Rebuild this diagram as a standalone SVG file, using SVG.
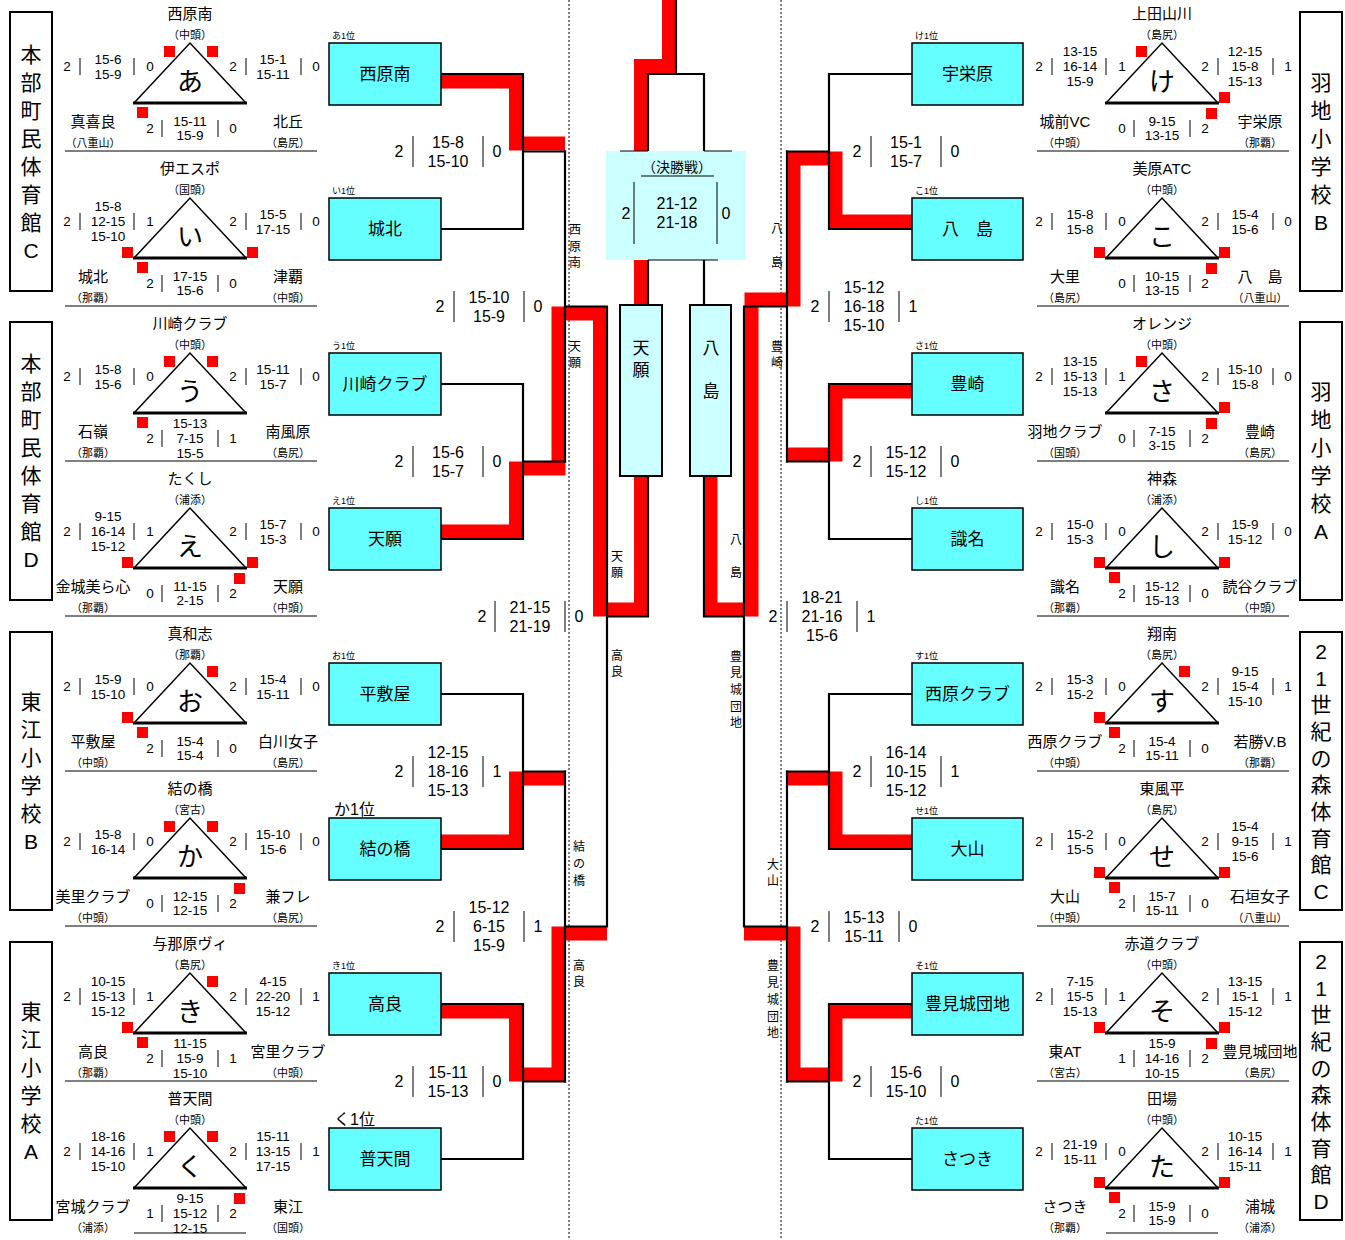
<svg xmlns="http://www.w3.org/2000/svg" width="1345" height="1240" viewBox="0 0 1345 1240">
<style>
svg{font-size:13.5px}
text{font-family:"Liberation Sans","Noto Sans CJK JP",sans-serif;text-anchor:middle;dominant-baseline:central;fill:#000}
.nm{font-size:15px}
.ds{font-size:11px}
.lt{font-size:26px}
.bs{font-size:16px}
.tb{font-size:17px}
.eg{font-size:21px}
.vl{font-size:12px}
.fn{font-size:14px}
.rk{font-size:9px;text-anchor:start}
.rkb{font-size:16px;text-anchor:start}
.red{fill:none;stroke:#f00;stroke-width:14;stroke-linejoin:miter}
.blk{fill:none;stroke:#000;stroke-width:2.2;stroke-linecap:square}
.box{fill:#66ffff;stroke:#000;stroke-width:1.5}
.sbox{fill:#ccffff;stroke:#000;stroke-width:2}
.thin{stroke:#000;stroke-width:1}
.dash{stroke:#000;stroke-width:1;stroke-dasharray:2 2}
.edge{fill:#fff;stroke:#000;stroke-width:2}
</style>
<defs>
<g id="pf">
<polyline points="-56,60 0,0 56,60" fill="none" stroke="#000" stroke-width="1.5"/>
<line x1="-57" y1="60" x2="57" y2="60" stroke="#000" stroke-width="3"/>
<g class="thin">
<line x1="-110" y1="15" x2="-110" y2="32"/>
<line x1="-56" y1="15" x2="-56" y2="32"/>
<line x1="56" y1="15" x2="56" y2="32"/>
<line x1="111" y1="15" x2="111" y2="32"/>
<line x1="-28" y1="77" x2="-28" y2="94"/>
<line x1="28" y1="77" x2="28" y2="94"/>
</g>
</g>
<line id="ul" x1="-125" y1="108" x2="127" y2="108" stroke="#000" stroke-width="1"/>
<line id="uls" x1="-56" y1="105" x2="56" y2="105" stroke="#000" stroke-width="1"/>
<rect id="sq" width="11" height="11" fill="#f00"/>
<g id="bb" class="thin"><line x1="-35" y1="-15.5" x2="-35" y2="15.5"/><line x1="35" y1="-15.5" x2="35" y2="15.5"/></g>
</defs>

<g id="dividers">
<line class="dash" x1="569" y1="0" x2="569" y2="1240"/>
<line class="dash" x1="781" y1="0" x2="781" y2="1240"/>
</g>

<g id="venue-left-1"><rect class="edge" x="10" y="12" width="42" height="279"/>
<text class="eg"><tspan x="31" y="53.5">本</tspan><tspan x="31" y="81.5">部</tspan><tspan x="31" y="109.5">町</tspan><tspan x="31" y="137.5">民</tspan><tspan x="31" y="165.5">体</tspan><tspan x="31" y="193.5">育</tspan><tspan x="31" y="221.5">館</tspan><tspan x="31" y="249.5">C</tspan></text></g>
<g id="venue-left-2"><rect class="edge" x="10" y="322" width="42" height="278"/>
<text class="eg"><tspan x="31" y="363">本</tspan><tspan x="31" y="391">部</tspan><tspan x="31" y="419">町</tspan><tspan x="31" y="447">民</tspan><tspan x="31" y="475">体</tspan><tspan x="31" y="503">育</tspan><tspan x="31" y="531">館</tspan><tspan x="31" y="559">D</tspan></text></g>
<g id="venue-left-3"><rect class="edge" x="10" y="632" width="42" height="278"/>
<text class="eg"><tspan x="31" y="701">東</tspan><tspan x="31" y="729">江</tspan><tspan x="31" y="757">小</tspan><tspan x="31" y="785">学</tspan><tspan x="31" y="813">校</tspan><tspan x="31" y="841">B</tspan></text></g>
<g id="venue-left-4"><rect class="edge" x="10" y="942" width="42" height="278"/>
<text class="eg"><tspan x="31" y="1011">東</tspan><tspan x="31" y="1039">江</tspan><tspan x="31" y="1067">小</tspan><tspan x="31" y="1095">学</tspan><tspan x="31" y="1123">校</tspan><tspan x="31" y="1151">A</tspan></text></g>
<g id="venue-right-1"><rect class="edge" x="1300" y="12" width="42" height="279"/>
<text class="eg"><tspan x="1321" y="81.5">羽</tspan><tspan x="1321" y="109.5">地</tspan><tspan x="1321" y="137.5">小</tspan><tspan x="1321" y="165.5">学</tspan><tspan x="1321" y="193.5">校</tspan><tspan x="1321" y="221.5">B</tspan></text></g>
<g id="venue-right-2"><rect class="edge" x="1300" y="322" width="42" height="278"/>
<text class="eg"><tspan x="1321" y="391">羽</tspan><tspan x="1321" y="419">地</tspan><tspan x="1321" y="447">小</tspan><tspan x="1321" y="475">学</tspan><tspan x="1321" y="503">校</tspan><tspan x="1321" y="531">A</tspan></text></g>
<g id="venue-right-3"><rect class="edge" x="1300" y="632" width="42" height="278"/>
<text class="eg"><tspan x="1321" y="651">2</tspan><tspan x="1321" y="677.6">1</tspan><tspan x="1321" y="704.3">世</tspan><tspan x="1321" y="731">紀</tspan><tspan x="1321" y="757.6">の</tspan><tspan x="1321" y="784.3">森</tspan><tspan x="1321" y="811">体</tspan><tspan x="1321" y="837.7">育</tspan><tspan x="1321" y="864.4">館</tspan><tspan x="1321" y="891">C</tspan></text></g>
<g id="venue-right-4"><rect class="edge" x="1300" y="942" width="42" height="278"/>
<text class="eg"><tspan x="1321" y="961">2</tspan><tspan x="1321" y="987.6">1</tspan><tspan x="1321" y="1014.3">世</tspan><tspan x="1321" y="1041">紀</tspan><tspan x="1321" y="1067.6">の</tspan><tspan x="1321" y="1094.3">森</tspan><tspan x="1321" y="1121">体</tspan><tspan x="1321" y="1147.7">育</tspan><tspan x="1321" y="1174.4">館</tspan><tspan x="1321" y="1201">D</tspan></text></g>

<!-- Left pools -->
<g id="pool-a" transform="translate(190,43)"><use href="#pf"/><use href="#ul"/>
<text class="nm" y="-30">西原南</text><text class="ds" y="-8">（中頭）</text><text class="lt" y="39">あ</text>
<text x="-123" y="23">2</text><text x="-82" y="16">15-6</text><text x="-82" y="31">15-9</text><text x="-40" y="23">0</text>
<text x="43" y="23">2</text><text x="83" y="16">15-1</text><text x="83" y="31">15-11</text><text x="126" y="23">0</text>
<text x="-40" y="85">2</text><text y="78">15-11</text><text y="92">15-9</text><text x="43" y="85">0</text>
<text class="nm" x="-97" y="78">真喜良</text><text class="ds" x="-97" y="100">（八重山）</text>
<text class="nm" x="98" y="78">北丘</text><text class="ds" x="98" y="100">（島尻）</text>
<use href="#sq" x="-26" y="3"/><use href="#sq" x="17" y="3"/><use href="#sq" x="-53" y="64"/></g>

<g id="pool-i" transform="translate(190,198)"><use href="#pf"/><use href="#ul"/>
<text class="nm" y="-30">伊エスポ</text><text class="ds" y="-8">（国頭）</text><text class="lt" y="39">い</text>
<text x="-123" y="23">2</text><text x="-82" y="8">15-8</text><text x="-82" y="23">12-15</text><text x="-82" y="38">15-10</text><text x="-40" y="23">1</text>
<text x="43" y="23">2</text><text x="83" y="16">15-5</text><text x="83" y="31">17-15</text><text x="126" y="23">0</text>
<text x="-40" y="85">2</text><text y="78">17-15</text><text y="92">15-6</text><text x="43" y="85">0</text>
<text class="nm" x="-97" y="78">城北</text><text class="ds" x="-97" y="100">（那覇）</text>
<text class="nm" x="98" y="78">津覇</text><text class="ds" x="98" y="100">（中頭）</text>
<use href="#sq" x="-68" y="49"/><use href="#sq" x="57" y="49"/><use href="#sq" x="-53" y="64"/></g>

<g id="pool-u" transform="translate(190,353)"><use href="#pf"/><use href="#ul"/>
<text class="nm" y="-30">川崎クラブ</text><text class="ds" y="-8">（中頭）</text><text class="lt" y="39">う</text>
<text x="-123" y="23">2</text><text x="-82" y="16">15-8</text><text x="-82" y="31">15-6</text><text x="-40" y="23">0</text>
<text x="43" y="23">2</text><text x="83" y="16">15-11</text><text x="83" y="31">15-7</text><text x="126" y="23">0</text>
<text x="-40" y="85">2</text><text y="70">15-13</text><text y="85">7-15</text><text y="100">15-5</text><text x="43" y="85">1</text>
<text class="nm" x="-97" y="78">石嶺</text><text class="ds" x="-97" y="100">（那覇）</text>
<text class="nm" x="98" y="78">南風原</text><text class="ds" x="98" y="100">（島尻）</text>
<use href="#sq" x="-26" y="3"/><use href="#sq" x="17" y="3"/><use href="#sq" x="-53" y="64"/></g>

<g id="pool-e" transform="translate(190,508)"><use href="#pf"/><use href="#ul"/>
<text class="nm" y="-30">たくし</text><text class="ds" y="-8">（浦添）</text><text class="lt" y="39">え</text>
<text x="-123" y="23">2</text><text x="-82" y="8">9-15</text><text x="-82" y="23">16-14</text><text x="-82" y="38">15-12</text><text x="-40" y="23">1</text>
<text x="43" y="23">2</text><text x="83" y="16">15-7</text><text x="83" y="31">15-3</text><text x="126" y="23">0</text>
<text x="-40" y="85">0</text><text y="78">11-15</text><text y="92">2-15</text><text x="43" y="85">2</text>
<text class="nm" x="-97" y="78">金城美ら心</text><text class="ds" x="-97" y="100">（那覇）</text>
<text class="nm" x="98" y="78">天願</text><text class="ds" x="98" y="100">（中頭）</text>
<use href="#sq" x="-68" y="49"/><use href="#sq" x="57" y="49"/><use href="#sq" x="44" y="65"/></g>

<g id="pool-o" transform="translate(190,663)"><use href="#pf"/><use href="#ul"/>
<text class="nm" y="-30">真和志</text><text class="ds" y="-8">（那覇）</text><text class="lt" y="39">お</text>
<text x="-123" y="23">2</text><text x="-82" y="16">15-9</text><text x="-82" y="31">15-10</text><text x="-40" y="23">0</text>
<text x="43" y="23">2</text><text x="83" y="16">15-4</text><text x="83" y="31">15-11</text><text x="126" y="23">0</text>
<text x="-40" y="85">2</text><text y="78">15-4</text><text y="92">15-4</text><text x="43" y="85">0</text>
<text class="nm" x="-97" y="78">平敷屋</text><text class="ds" x="-97" y="100">（中頭）</text>
<text class="nm" x="98" y="78">白川女子</text><text class="ds" x="98" y="100">（島尻）</text>
<use href="#sq" x="17" y="3"/><use href="#sq" x="-68" y="49"/><use href="#sq" x="-53" y="64"/></g>

<g id="pool-ka" transform="translate(190,818)"><use href="#pf"/><use href="#ul"/>
<text class="nm" y="-30">結の橋</text><text class="ds" y="-8">（宮古）</text><text class="lt" y="39">か</text>
<text x="-123" y="23">2</text><text x="-82" y="16">15-8</text><text x="-82" y="31">16-14</text><text x="-40" y="23">0</text>
<text x="43" y="23">2</text><text x="83" y="16">15-10</text><text x="83" y="31">15-6</text><text x="126" y="23">0</text>
<text x="-40" y="85">0</text><text y="78">12-15</text><text y="92">12-15</text><text x="43" y="85">2</text>
<text class="nm" x="-97" y="78">美里クラブ</text><text class="ds" x="-97" y="100">（中頭）</text>
<text class="nm" x="98" y="78">兼フレ</text><text class="ds" x="98" y="100">（島尻）</text>
<use href="#sq" x="-26" y="3"/><use href="#sq" x="17" y="3"/><use href="#sq" x="44" y="65"/></g>

<g id="pool-ki" transform="translate(190,973)"><use href="#pf"/><use href="#ul"/>
<text class="nm" y="-30">与那原ヴィ</text><text class="ds" y="-8">（島尻）</text><text class="lt" y="39">き</text>
<text x="-123" y="23">2</text><text x="-82" y="8">10-15</text><text x="-82" y="23">15-13</text><text x="-82" y="38">15-12</text><text x="-40" y="23">1</text>
<text x="43" y="23">2</text><text x="83" y="8">4-15</text><text x="83" y="23">22-20</text><text x="83" y="38">15-12</text><text x="126" y="23">1</text>
<text x="-40" y="85">2</text><text y="70">11-15</text><text y="85">15-9</text><text y="100">15-10</text><text x="43" y="85">1</text>
<text class="nm" x="-97" y="78">高良</text><text class="ds" x="-97" y="100">（那覇）</text>
<text class="nm" x="98" y="78">宮里クラブ</text><text class="ds" x="98" y="100">（中頭）</text>
<use href="#sq" x="17" y="3"/><use href="#sq" x="-68" y="49"/><use href="#sq" x="-53" y="64"/></g>

<g id="pool-ku" transform="translate(190,1128)"><use href="#pf"/><use href="#uls"/>
<text class="nm" y="-30">普天間</text><text class="ds" y="-8">（中頭）</text><text class="lt" y="39">く</text>
<text x="-123" y="23">2</text><text x="-82" y="8">18-16</text><text x="-82" y="23">14-16</text><text x="-82" y="38">15-10</text><text x="-40" y="23">1</text>
<text x="43" y="23">2</text><text x="83" y="8">15-11</text><text x="83" y="23">13-15</text><text x="83" y="38">17-15</text><text x="126" y="23">1</text>
<text x="-40" y="85">1</text><text y="70">9-15</text><text y="85">15-12</text><text y="100">12-15</text><text x="43" y="85">2</text>
<text class="nm" x="-97" y="78">宮城クラブ</text><text class="ds" x="-97" y="100">（浦添）</text>
<text class="nm" x="98" y="78">東江</text><text class="ds" x="98" y="100">（国頭）</text>
<use href="#sq" x="-26" y="3"/><use href="#sq" x="17" y="3"/><use href="#sq" x="44" y="65"/></g>

<!-- Right pools -->
<g id="pool-ke" transform="translate(1162,43)"><use href="#pf"/><use href="#ul"/>
<text class="nm" y="-30">上田山川</text><text class="ds" y="-8">（島尻）</text><text class="lt" y="39">け</text>
<text x="-123" y="23">2</text><text x="-82" y="8">13-15</text><text x="-82" y="23">16-14</text><text x="-82" y="38">15-9</text><text x="-40" y="23">1</text>
<text x="43" y="23">2</text><text x="83" y="8">12-15</text><text x="83" y="23">15-8</text><text x="83" y="38">15-13</text><text x="126" y="23">1</text>
<text x="-40" y="85">0</text><text y="78">9-15</text><text y="92">13-15</text><text x="43" y="85">2</text>
<text class="nm" x="-97" y="78">城前VC</text><text class="ds" x="-97" y="100">（中頭）</text>
<text class="nm" x="98" y="78">宇栄原</text><text class="ds" x="98" y="100">（那覇）</text>
<use href="#sq" x="-26" y="3"/><use href="#sq" x="57" y="49"/><use href="#sq" x="44" y="65"/></g>

<g id="pool-ko" transform="translate(1162,198)"><use href="#pf"/><use href="#ul"/>
<text class="nm" y="-30">美原ATC</text><text class="ds" y="-8">（中頭）</text><text class="lt" y="39">こ</text>
<text x="-123" y="23">2</text><text x="-82" y="16">15-8</text><text x="-82" y="31">15-8</text><text x="-40" y="23">0</text>
<text x="43" y="23">2</text><text x="83" y="16">15-4</text><text x="83" y="31">15-6</text><text x="126" y="23">0</text>
<text x="-40" y="85">0</text><text y="78">10-15</text><text y="92">13-15</text><text x="43" y="85">2</text>
<text class="nm" x="-97" y="78">大里</text><text class="ds" x="-97" y="100">（島尻）</text>
<text class="nm" x="98" y="78">八　島</text><text class="ds" x="98" y="100">（八重山）</text>
<use href="#sq" x="-68" y="49"/><use href="#sq" x="57" y="49"/><use href="#sq" x="44" y="65"/></g>

<g id="pool-sa" transform="translate(1162,353)"><use href="#pf"/><use href="#ul"/>
<text class="nm" y="-30">オレンジ</text><text class="ds" y="-8">（中頭）</text><text class="lt" y="39">さ</text>
<text x="-123" y="23">2</text><text x="-82" y="8">13-15</text><text x="-82" y="23">15-13</text><text x="-82" y="38">15-13</text><text x="-40" y="23">1</text>
<text x="43" y="23">2</text><text x="83" y="16">15-10</text><text x="83" y="31">15-8</text><text x="126" y="23">0</text>
<text x="-40" y="85">0</text><text y="78">7-15</text><text y="92">3-15</text><text x="43" y="85">2</text>
<text class="nm" x="-97" y="78">羽地クラブ</text><text class="ds" x="-97" y="100">（国頭）</text>
<text class="nm" x="98" y="78">豊崎</text><text class="ds" x="98" y="100">（島尻）</text>
<use href="#sq" x="-26" y="3"/><use href="#sq" x="57" y="49"/><use href="#sq" x="44" y="65"/></g>

<g id="pool-shi" transform="translate(1162,508)"><use href="#pf"/><use href="#ul"/>
<text class="nm" y="-30">神森</text><text class="ds" y="-8">（浦添）</text><text class="lt" y="39">し</text>
<text x="-123" y="23">2</text><text x="-82" y="16">15-0</text><text x="-82" y="31">15-3</text><text x="-40" y="23">0</text>
<text x="43" y="23">2</text><text x="83" y="16">15-9</text><text x="83" y="31">15-12</text><text x="126" y="23">0</text>
<text x="-40" y="85">2</text><text y="78">15-12</text><text y="92">15-13</text><text x="43" y="85">0</text>
<text class="nm" x="-97" y="78">識名</text><text class="ds" x="-97" y="100">（那覇）</text>
<text class="nm" x="98" y="78">読谷クラブ</text><text class="ds" x="98" y="100">（中頭）</text>
<use href="#sq" x="-68" y="49"/><use href="#sq" x="57" y="49"/><use href="#sq" x="-53" y="64"/></g>

<g id="pool-su" transform="translate(1162,663)"><use href="#pf"/><use href="#ul"/>
<text class="nm" y="-30">翔南</text><text class="ds" y="-8">（島尻）</text><text class="lt" y="39">す</text>
<text x="-123" y="23">2</text><text x="-82" y="16">15-3</text><text x="-82" y="31">15-2</text><text x="-40" y="23">0</text>
<text x="43" y="23">2</text><text x="83" y="8">9-15</text><text x="83" y="23">15-4</text><text x="83" y="38">15-10</text><text x="126" y="23">1</text>
<text x="-40" y="85">2</text><text y="78">15-4</text><text y="92">15-11</text><text x="43" y="85">0</text>
<text class="nm" x="-97" y="78">西原クラブ</text><text class="ds" x="-97" y="100">（中頭）</text>
<text class="nm" x="98" y="78">若勝V.B</text><text class="ds" x="98" y="100">（那覇）</text>
<use href="#sq" x="17" y="3"/><use href="#sq" x="-68" y="49"/><use href="#sq" x="-53" y="64"/></g>

<g id="pool-se" transform="translate(1162,818)"><use href="#pf"/><use href="#ul"/>
<text class="nm" y="-30">東風平</text><text class="ds" y="-8">（島尻）</text><text class="lt" y="39">せ</text>
<text x="-123" y="23">2</text><text x="-82" y="16">15-2</text><text x="-82" y="31">15-5</text><text x="-40" y="23">0</text>
<text x="43" y="23">2</text><text x="83" y="8">15-4</text><text x="83" y="23">9-15</text><text x="83" y="38">15-6</text><text x="126" y="23">1</text>
<text x="-40" y="85">2</text><text y="78">15-7</text><text y="92">15-11</text><text x="43" y="85">0</text>
<text class="nm" x="-97" y="78">大山</text><text class="ds" x="-97" y="100">（中頭）</text>
<text class="nm" x="98" y="78">石垣女子</text><text class="ds" x="98" y="100">（八重山）</text>
<use href="#sq" x="-68" y="49"/><use href="#sq" x="57" y="49"/><use href="#sq" x="-53" y="64"/></g>

<g id="pool-so" transform="translate(1162,973)"><use href="#pf"/><use href="#ul"/>
<text class="nm" y="-30">赤道クラブ</text><text class="ds" y="-8">（中頭）</text><text class="lt" y="39">そ</text>
<text x="-123" y="23">2</text><text x="-82" y="8">7-15</text><text x="-82" y="23">15-5</text><text x="-82" y="38">15-13</text><text x="-40" y="23">1</text>
<text x="43" y="23">2</text><text x="83" y="8">13-15</text><text x="83" y="23">15-1</text><text x="83" y="38">15-12</text><text x="126" y="23">1</text>
<text x="-40" y="85">1</text><text y="70">15-9</text><text y="85">14-16</text><text y="100">10-15</text><text x="43" y="85">2</text>
<text class="nm" x="-97" y="78">東AT</text><text class="ds" x="-97" y="100">（宮古）</text>
<text class="nm" x="98" y="78">豊見城団地</text><text class="ds" x="98" y="100">（島尻）</text>
<use href="#sq" x="-68" y="49"/><use href="#sq" x="57" y="49"/><use href="#sq" x="44" y="65"/></g>

<g id="pool-ta" transform="translate(1162,1128)"><use href="#pf"/><use href="#uls"/>
<text class="nm" y="-30">田場</text><text class="ds" y="-8">（中頭）</text><text class="lt" y="39">た</text>
<text x="-123" y="23">2</text><text x="-82" y="16">21-19</text><text x="-82" y="31">15-11</text><text x="-40" y="23">0</text>
<text x="43" y="23">2</text><text x="83" y="8">10-15</text><text x="83" y="23">16-14</text><text x="83" y="38">15-11</text><text x="126" y="23">1</text>
<text x="-40" y="85">2</text><text y="78">15-9</text><text y="92">15-9</text><text x="43" y="85">0</text>
<text class="nm" x="-97" y="78">さつき</text><text class="ds" x="-97" y="100">（那覇）</text>
<text class="nm" x="98" y="78">浦城</text><text class="ds" x="98" y="100">（浦添）</text>
<use href="#sq" x="-68" y="49"/><use href="#sq" x="57" y="49"/><use href="#sq" x="-53" y="64"/></g>

<!-- Connectors -->
<g id="connectors">
<path class="red" d="M441,81.5 H516 V143.5 H565"/>
<path class="red" d="M441,531.5 H516 V468.5 H558.5 V313.5 H600 V609.5 H641 V476"/>
<path class="red" d="M441,841.5 H516 V778.5 H565"/>
<path class="red" d="M441,1011.5 H516 V1074.5 H558.5 V933.5 H607"/>
<path class="red" d="M641,305 V66 H669 V0"/>
<path class="red" d="M912,221.5 H835.5 V158.5 H793.5 V299.5 H751.5 V609.5 H710.5 V476"/>
<path class="red" d="M912,391.5 H835.5 V454.5 H787"/>
<path class="red" d="M912,841.5 H835.5 V778.5 H787"/>
<path class="red" d="M912,1011.5 H835.5 V1074.5 H793.5 V933.5 H744"/>

<path class="blk" d="M441,74 H523 V229 H441 M523,151.5 H565 M441,384 H523 V539 H441 M523,461.5 H565 M441,694 H523 V849 H441 M523,771.5 H565 M441,1004 H523 V1159 H441 M523,1081.5 H565"/>
<path class="blk" d="M565,151.5 V461.5 M565,306.5 H607 M565,771.5 V1081.5 M565,926.5 H607 M607,306.5 V926.5 M607,616.5 H648 V476"/>
<path class="blk" d="M648,305 V260 M648,151 V74 H704 V151 M676,74 V0 M704,305 V260"/>
<path class="blk" d="M912,74 H829 V229 H912 M829,151.5 H787 M912,384 H829 V539 H912 M829,461.5 H787 M912,694 H829 V849 H912 M829,771.5 H787 M912,1004 H829 V1159 H912 M829,1081.5 H787"/>
<path class="blk" d="M787,151.5 V461.5 M787,306.5 H744 M787,771.5 V1081.5 M787,926.5 H744 M744,306.5 V926.5 M744,616.5 H704 V476"/>
</g>

<!-- Team boxes left -->
<g id="box-nishiharaminami"><text class="rk" x="332" y="36">あ1位</text><rect class="box" x="329" y="43" width="112" height="62"/><text class="tb" x="385" y="74">西原南</text></g>
<g id="box-johoku"><text class="rk" x="332" y="191">い1位</text><rect class="box" x="329" y="198" width="112" height="62"/><text class="tb" x="385" y="229">城北</text></g>
<g id="box-kawasaki"><text class="rk" x="332" y="346">う1位</text><rect class="box" x="329" y="353" width="112" height="62"/><text class="tb" x="385" y="384">川崎クラブ</text></g>
<g id="box-tengan"><text class="rk" x="332" y="501">え1位</text><rect class="box" x="329" y="508" width="112" height="62"/><text class="tb" x="385" y="539">天願</text></g>
<g id="box-heshikiya"><text class="rk" x="332" y="656">お1位</text><rect class="box" x="329" y="663" width="112" height="62"/><text class="tb" x="385" y="694">平敷屋</text></g>
<g id="box-yuinohashi"><text class="rkb" x="334" y="809">か1位</text><rect class="box" x="329" y="818" width="112" height="62"/><text class="tb" x="385" y="849">結の橋</text></g>
<g id="box-takara"><text class="rk" x="332" y="966">き1位</text><rect class="box" x="329" y="973" width="112" height="62"/><text class="tb" x="385" y="1004">高良</text></g>
<g id="box-futenma"><text class="rkb" x="334" y="1119">く1位</text><rect class="box" x="329" y="1128" width="112" height="62"/><text class="tb" x="385" y="1159">普天間</text></g>

<!-- Team boxes right -->
<g id="box-uebaru"><text class="rk" x="915" y="36">け1位</text><rect class="box" x="912" y="43" width="111" height="62"/><text class="tb" x="967.5" y="74">宇栄原</text></g>
<g id="box-yashima"><text class="rk" x="915" y="191">こ1位</text><rect class="box" x="912" y="198" width="111" height="62"/><text class="tb" x="967.5" y="229">八　島</text></g>
<g id="box-toyosaki"><text class="rk" x="915" y="346">さ1位</text><rect class="box" x="912" y="353" width="111" height="62"/><text class="tb" x="967.5" y="384">豊崎</text></g>
<g id="box-shikina"><text class="rk" x="915" y="501">し1位</text><rect class="box" x="912" y="508" width="111" height="62"/><text class="tb" x="967.5" y="539">識名</text></g>
<g id="box-nishiharaclub"><text class="rk" x="915" y="656">す1位</text><rect class="box" x="912" y="663" width="111" height="62"/><text class="tb" x="967.5" y="694">西原クラブ</text></g>
<g id="box-oyama"><text class="rk" x="915" y="811">せ1位</text><rect class="box" x="912" y="818" width="111" height="62"/><text class="tb" x="967.5" y="849">大山</text></g>
<g id="box-tomigusuku"><text class="rk" x="915" y="966">そ1位</text><rect class="box" x="912" y="973" width="111" height="62"/><text class="tb" x="967.5" y="1004">豊見城団地</text></g>
<g id="box-satsuki"><text class="rk" x="915" y="1121">た1位</text><rect class="box" x="912" y="1128" width="111" height="62"/><text class="tb" x="967.5" y="1159">さつき</text></g>

<!-- Semifinal winners and final -->
<g id="semi-tengan"><rect class="sbox" x="620" y="305" width="42" height="171"/><text class="tb"><tspan x="641" y="348">天</tspan><tspan x="641" y="370">願</tspan></text></g>
<g id="semi-yashima"><rect class="sbox" x="690" y="305" width="41" height="171"/><text class="tb"><tspan x="711" y="348">八</tspan><tspan x="711" y="391">島</tspan></text></g>
<g id="final">
<rect x="606" y="151" width="140" height="109" fill="#ccffff"/>
<g class="thin"><line x1="620" y1="151" x2="648" y2="151"/><line x1="704" y1="151" x2="732" y2="151"/><line x1="648" y1="260" x2="718" y2="260"/></g>
<text class="fn" x="677" y="167">（決勝戦）</text>
<line class="thin" x1="641" y1="176" x2="714" y2="176"/>
<g class="bs" transform="translate(677,213)">
<line class="thin" x1="-43" y1="-31" x2="-43" y2="31"/><line class="thin" x1="40" y1="-31" x2="40" y2="31"/>
<text x="-51">2</text><text y="-9.5">21-12</text><text y="9.5">21-18</text><text x="49">0</text></g>
</g>

<!-- Bracket scores -->
<g id="scores" class="bs">
<g transform="translate(448,151.5)"><use href="#bb"/><text x="-49">2</text><text y="-9.5">15-8</text><text y="9.5">15-10</text><text x="49">0</text></g>
<g transform="translate(448,461.5)"><use href="#bb"/><text x="-49">2</text><text y="-9.5">15-6</text><text y="9.5">15-7</text><text x="49">0</text></g>
<g transform="translate(448,771.5)"><use href="#bb"/><text x="-49">2</text><text y="-19">12-15</text><text>18-16</text><text y="19">15-13</text><text x="49">1</text></g>
<g transform="translate(448,1081.5)"><use href="#bb"/><text x="-49">2</text><text y="-9.5">15-11</text><text y="9.5">15-13</text><text x="49">0</text></g>
<g transform="translate(489,306.5)"><use href="#bb"/><text x="-49">2</text><text y="-9.5">15-10</text><text y="9.5">15-9</text><text x="49">0</text></g>
<g transform="translate(489,926.5)"><use href="#bb"/><text x="-49">2</text><text y="-19">15-12</text><text>6-15</text><text y="19">15-9</text><text x="49">1</text></g>
<g transform="translate(530,616.5)"><use href="#bb"/><text x="-48">2</text><text y="-9.5">21-15</text><text y="9.5">21-19</text><text x="49">0</text></g>
<g transform="translate(906,151.5)"><use href="#bb"/><text x="-49">2</text><text y="-9.5">15-1</text><text y="9.5">15-7</text><text x="49">0</text></g>
<g transform="translate(906,461.5)"><use href="#bb"/><text x="-49">2</text><text y="-9.5">15-12</text><text y="9.5">15-12</text><text x="49">0</text></g>
<g transform="translate(906,771.5)"><use href="#bb"/><text x="-49">2</text><text y="-19">16-14</text><text>10-15</text><text y="19">15-12</text><text x="49">1</text></g>
<g transform="translate(906,1081.5)"><use href="#bb"/><text x="-49">2</text><text y="-9.5">15-6</text><text y="9.5">15-10</text><text x="49">0</text></g>
<g transform="translate(864,306.5)"><use href="#bb"/><text x="-49">2</text><text y="-19">15-12</text><text>16-18</text><text y="19">15-10</text><text x="49">1</text></g>
<g transform="translate(864,926.5)"><use href="#bb"/><text x="-49">2</text><text y="-9.5">15-13</text><text y="9.5">15-11</text><text x="49">0</text></g>
<g transform="translate(822,616.5)"><use href="#bb"/><text x="-49">2</text><text y="-19">18-21</text><text>21-16</text><text y="19">15-6</text><text x="49">1</text></g>
</g>

<!-- Vertical winner labels -->
<g id="winner-labels" class="vl">
<text><tspan x="575" y="230">西</tspan><tspan x="575" y="247">原</tspan><tspan x="575" y="263">南</tspan></text>
<text><tspan x="575" y="347">天</tspan><tspan x="575" y="363">願</tspan></text>
<text><tspan x="617" y="557">天</tspan><tspan x="617" y="573">願</tspan></text>
<text><tspan x="617" y="656">高</tspan><tspan x="617" y="672">良</tspan></text>
<text><tspan x="579" y="847">結</tspan><tspan x="579" y="864">の</tspan><tspan x="579" y="881">橋</tspan></text>
<text><tspan x="579" y="966">高</tspan><tspan x="579" y="982">良</tspan></text>
<text><tspan x="777" y="229">八</tspan><tspan x="777" y="263">島</tspan></text>
<text><tspan x="777" y="347">豊</tspan><tspan x="777" y="363">崎</tspan></text>
<text><tspan x="736" y="540">八</tspan><tspan x="736" y="573">島</tspan></text>
<text><tspan x="736" y="657">豊</tspan><tspan x="736" y="673">見</tspan><tspan x="736" y="690">城</tspan><tspan x="736" y="707">団</tspan><tspan x="736" y="723">地</tspan></text>
<text><tspan x="773" y="865">大</tspan><tspan x="773" y="881">山</tspan></text>
<text><tspan x="773" y="966">豊</tspan><tspan x="773" y="983">見</tspan><tspan x="773" y="1000">城</tspan><tspan x="773" y="1017">団</tspan><tspan x="773" y="1033">地</tspan></text>
</g>
</svg>
